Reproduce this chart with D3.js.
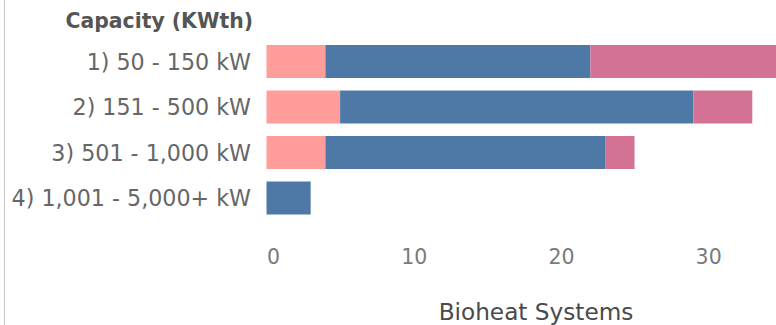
<!DOCTYPE html>
<html>
<head>
<meta charset="utf-8">
<script src="https://cdn.jsdelivr.net/npm/d3@7"></script>
<style>
  html, body { margin: 0; padding: 0; background: #fff; }
  svg { display: block; }
  text { font-family: "DejaVu Sans", "Open Sans", sans-serif; }
</style>
</head>
<body>
<svg id="chart" width="776" height="325"></svg>
<script>
// Capacity bands and bioheat system counts per fuel group (stacked)
const categories = ["1) 50 - 150 kW", "2) 151 - 500 kW", "3) 501 - 1,000 kW", "4) 1,001 - 5,000+ kW"];
const seriesKeys = ["groupA", "groupB", "groupC"];
const groupA = [4, 5, 4, 0];
const groupB = [18, 24, 19, 3];
const groupC = [14, 4, 2, 0];
const seriesColors = ["#FF9D9A", "#4E79A7", "#D37295"];
const tickValues = [0, 10, 20, 30];

const rows = categories.map((c, i) => ({ category: c, groupA: groupA[i], groupB: groupB[i], groupC: groupC[i] }));

const svg = d3.select("#chart");
const W = 776, H = 325;
const FONT = "\"DejaVu Sans\", \"Open Sans\", sans-serif";

const x = d3.scaleLinear().domain([0, 34.61]).range([266.5, 776]);
const y = d3.scaleBand().domain(categories).range([38.75, 220.75]).paddingInner(0.275).paddingOuter(0.1375);
const color = d3.scaleOrdinal().domain(seriesKeys).range(seriesColors);

const stacked = d3.stack().keys(seriesKeys)(rows);

svg.append("defs").append("clipPath").attr("id", "plotClip")
  .append("rect").attr("x", 0).attr("y", 0).attr("width", W).attr("height", H);

// left frame line
svg.append("line")
  .attr("x1", 4.5).attr("x2", 4.5).attr("y1", 0).attr("y2", H)
  .attr("stroke", "#c8c8c8").attr("stroke-width", 1);

// stacked bars
svg.append("g").attr("clip-path", "url(#plotClip)")
  .selectAll("g").data(stacked).join("g")
  .attr("fill", d => color(d.key))
  .selectAll("rect").data(d => d).join("rect")
  .attr("x", d => x(d[0]))
  .attr("y", d => y(d.data.category))
  .attr("width", d => Math.max(0, x(d[1]) - x(d[0])))
  .attr("height", y.bandwidth());

// row header title
svg.append("text")
  .attr("x", 253).attr("y", 28)
  .attr("text-anchor", "end")
  .attr("font-size", 20.4).attr("font-weight", 700)
  .attr("fill", "#555")
  .text("Capacity (KWth)");

// category labels
const yAxis = d3.axisLeft(y).tickSize(0).tickPadding(0);
const gy = svg.append("g").attr("transform", "translate(251,0)").call(yAxis);
gy.select(".domain").remove();
gy.selectAll("text")
  .attr("font-size", 22.2).attr("fill", "#666")
  .attr("font-family", FONT)
  .attr("dy", "0.38em");

// value axis; the first label sits flush with the axis start
const xAxis = d3.axisBottom(x).tickValues(tickValues).tickSize(0).tickPadding(0);
const gx = svg.append("g").attr("transform", "translate(0,262)").call(xAxis);
gx.select(".domain").remove();
gx.selectAll("text")
  .attr("font-size", 20.5).attr("fill", "#7a7a7a")
  .attr("font-family", FONT)
  .attr("dy", "0.1em")
  .attr("text-anchor", (d, i) => i === 0 ? "start" : "middle");

// axis title
svg.append("text")
  .attr("x", 536).attr("y", 320)
  .attr("text-anchor", "middle")
  .attr("font-size", 23.2).attr("fill", "#4a4a4a")
  .text("Bioheat Systems");
</script>
</body>
</html>
